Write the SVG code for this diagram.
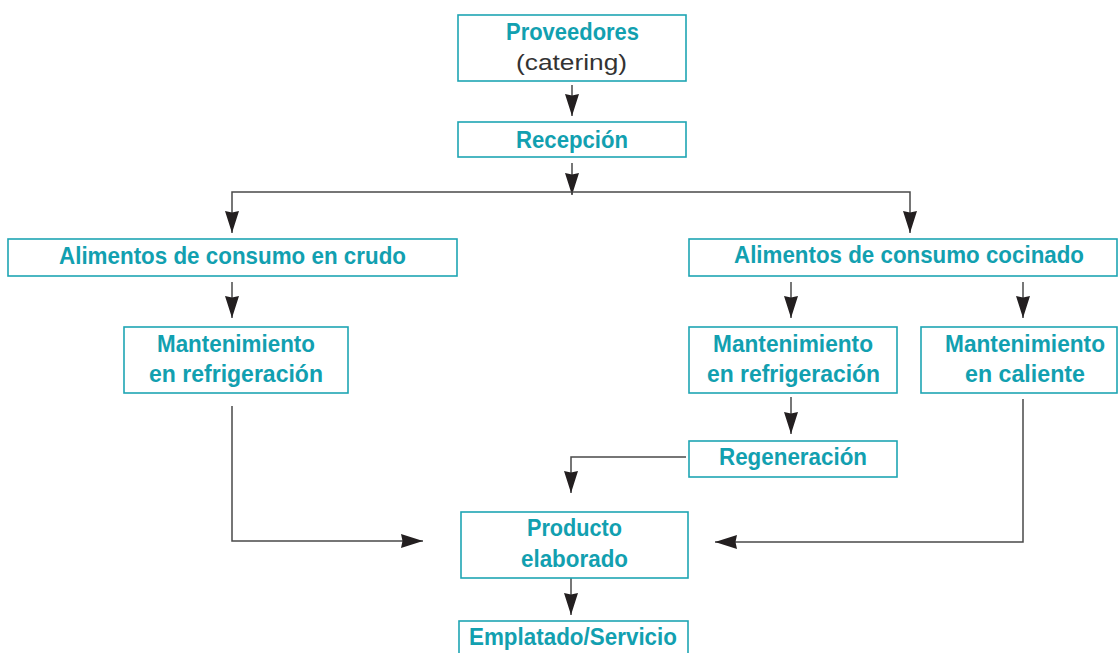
<svg xmlns="http://www.w3.org/2000/svg" width="1118" height="653" viewBox="0 0 1118 653">
<style>
.box{fill:#fff;stroke:#1ea5b3;stroke-width:1.6}
.t{font-family:"Liberation Sans",Arial,sans-serif;font-weight:bold;font-size:24px;fill:#12a0b0;text-anchor:middle}
.r{font-family:"Liberation Sans",Arial,sans-serif;font-size:22px;fill:#333;text-anchor:middle}
.c{fill:none;stroke:#4a4a4a;stroke-width:1.5}
</style>
<defs>
<marker id="ah" markerUnits="userSpaceOnUse" markerWidth="24" markerHeight="16" refX="22" refY="7.5" orient="auto">
<path d="M0,0.5 L22,7.5 L0,14.5 L1.5,7.5 z" fill="#231f20"/>
</marker>
</defs>
<rect width="1118" height="653" fill="#fff"/>
<g id="connectors">
<path class="c" d="M572,85 V116" marker-end="url(#ah)"/>
<path class="c" d="M572,163 V195" marker-end="url(#ah)"/>
<path class="c" d="M572,192 H232 V233" marker-end="url(#ah)"/>
<path class="c" d="M572,192 H910 V233" marker-end="url(#ah)"/>
<path class="c" d="M232,282 V318" marker-end="url(#ah)"/>
<path class="c" d="M791,282 V318" marker-end="url(#ah)"/>
<path class="c" d="M1023,282 V318" marker-end="url(#ah)"/>
<path class="c" d="M791,397 V434" marker-end="url(#ah)"/>
<path class="c" d="M686,457 H571 V493" marker-end="url(#ah)"/>
<path class="c" d="M232,406 V541 H423" marker-end="url(#ah)"/>
<path class="c" d="M1023,399 V542 H715" marker-end="url(#ah)"/>
<path class="c" d="M571,578 V615" marker-end="url(#ah)"/>
</g>
<g id="proveedores">
<rect class="box" x="458" y="15" width="228" height="66"/>
<text class="t" x="572.5" y="39.5" textLength="133" lengthAdjust="spacingAndGlyphs">Proveedores</text>
<text class="r" x="571.5" y="70" textLength="111" lengthAdjust="spacingAndGlyphs">(catering)</text>
</g>
<g id="recepcion">
<rect class="box" x="458" y="122" width="228" height="35"/>
<text class="t" x="572" y="148" textLength="112" lengthAdjust="spacingAndGlyphs">Recepción</text>
</g>
<g id="crudo">
<rect class="box" x="8" y="239" width="449" height="37"/>
<text class="t" x="232.5" y="264" textLength="347" lengthAdjust="spacingAndGlyphs">Alimentos de consumo en crudo</text>
</g>
<g id="cocinado">
<rect class="box" x="689" y="239" width="428" height="37"/>
<text class="t" x="909" y="263" textLength="350" lengthAdjust="spacingAndGlyphs">Alimentos de consumo cocinado</text>
</g>
<g id="mant-refrig-crudo">
<rect class="box" x="124" y="327" width="224" height="66"/>
<text class="t" x="236" y="352" textLength="158" lengthAdjust="spacingAndGlyphs">Mantenimiento</text>
<text class="t" x="236" y="382" textLength="174" lengthAdjust="spacingAndGlyphs">en refrigeración</text>
</g>
<g id="mant-refrig-cocinado">
<rect class="box" x="689" y="327" width="208" height="66"/>
<text class="t" x="793" y="352" textLength="160" lengthAdjust="spacingAndGlyphs">Mantenimiento</text>
<text class="t" x="793.5" y="382" textLength="173" lengthAdjust="spacingAndGlyphs">en refrigeración</text>
</g>
<g id="mant-caliente">
<rect class="box" x="921" y="327" width="196" height="66"/>
<text class="t" x="1025" y="352" textLength="160" lengthAdjust="spacingAndGlyphs">Mantenimiento</text>
<text class="t" x="1025" y="382" textLength="120" lengthAdjust="spacingAndGlyphs">en caliente</text>
</g>
<g id="regeneracion">
<rect class="box" x="689" y="441" width="208" height="36"/>
<text class="t" x="793" y="465" textLength="148" lengthAdjust="spacingAndGlyphs">Regeneración</text>
</g>
<g id="producto">
<rect class="box" x="461" y="512" width="227" height="66"/>
<text class="t" x="574.5" y="536" textLength="95" lengthAdjust="spacingAndGlyphs">Producto</text>
<text class="t" x="574.5" y="567" textLength="107" lengthAdjust="spacingAndGlyphs">elaborado</text>
</g>
<g id="emplatado">
<rect class="box" x="459" y="621" width="229" height="40"/>
<text class="t" x="573" y="645" textLength="208" lengthAdjust="spacingAndGlyphs">Emplatado/Servicio</text>
</g>
</svg>
